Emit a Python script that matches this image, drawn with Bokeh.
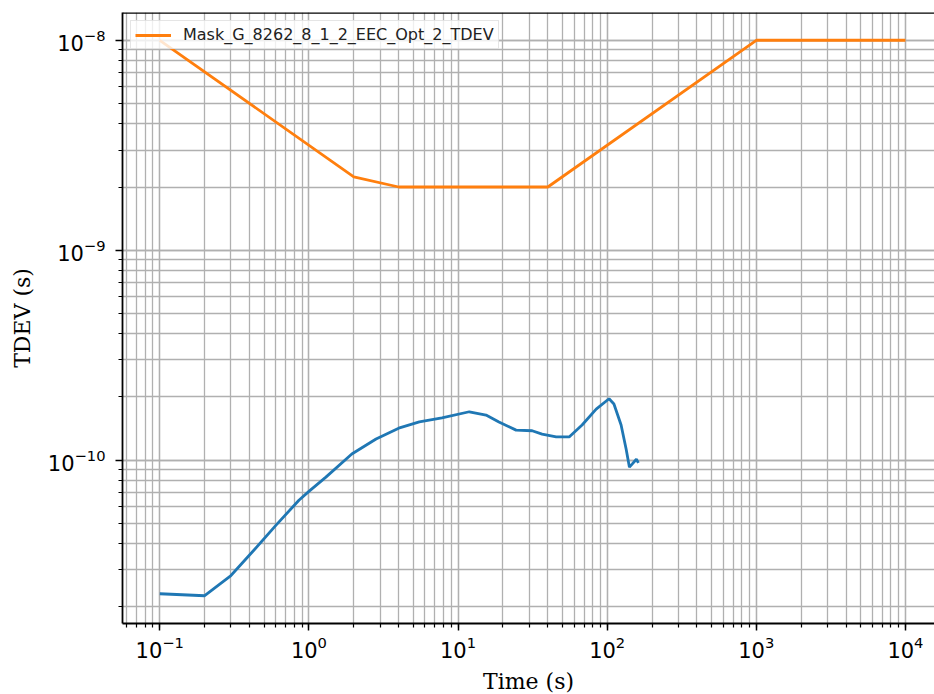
import numpy as np
from bokeh.plotting import figure
from bokeh.models import Range1d, Span, Legend, LegendItem
from bokeh.embed import file_html
from bokeh.resources import INLINE

# Measured TDEV (blue)
meas_tau = [0.1, 0.2, 0.3, 0.414, 0.6, 0.857, 1.0, 1.3, 1.94, 2.82, 4.0, 5.5, 7.8,
            11.9, 15.4, 18.8, 24.5, 31.4, 36.6, 45.5, 55.6, 67.9, 84.4, 103,
            111, 124, 134, 141, 147, 157, 162]
meas_tdev = [2.31e-11, 2.26e-11, 2.82e-11, 3.63e-11, 4.89e-11, 6.44e-11, 7.1e-11, 8.3e-11,
             1.07e-10, 1.26e-10, 1.42e-10, 1.52e-10, 1.59e-10, 1.70e-10, 1.64e-10,
             1.52e-10, 1.39e-10, 1.38e-10, 1.33e-10, 1.29e-10, 1.29e-10, 1.47e-10,
             1.75e-10, 1.96e-10, 1.85e-10, 1.47e-10, 1.13e-10, 9.26e-11, 9.57e-11,
             1.01e-10, 9.7e-11]

# Mask (orange)
mask_tau = [0.1, 2, 4, 40, 1000, 10000]
mask_tdev = [1e-8, 2.236e-9, 2.0e-9, 2.0e-9, 1e-8, 1e-8]
mask_label = "Mask_G_8262_8_1_2_EEC_Opt_2_TDEV"

x_label = "Time (s)"
y_label = "TDEV (s)"

# ranges (matplotlib-like 5% log margins; right side cropped)
all_t = meas_tau + mask_tau
all_v = meas_tdev + mask_tdev
lx0, lx1 = np.log10(min(all_t)), np.log10(max(all_t))
ly0, ly1 = np.log10(min(all_v)), np.log10(max(all_v))
mx = 0.05 * (lx1 - lx0)
my = 0.05 * (ly1 - ly0)
x_start = 10 ** (lx0 - mx)
x_end = 10 ** 4.195
y_start = 10 ** (ly0 - my)
y_end = 10 ** (ly1 + my)

p = figure(x_axis_type="log", y_axis_type="log",
           frame_width=812, frame_height=611,
           x_range=Range1d(x_start, x_end), y_range=Range1d(y_start, y_end),
           output_backend="svg", toolbar_location=None,
           min_border_left=122, min_border_right=0, min_border_top=12,
           min_border_bottom=71)

p.background_fill_color = "white"
p.border_fill_color = "white"
p.outline_line_color = None

# grid
for g in (p.xgrid, p.ygrid):
    g.grid_line_color = "#b0b0b0"
    g.grid_line_width = 1.3
    g.minor_grid_line_color = "#b0b0b0"
    g.minor_grid_line_width = 1.3

# top spine
p.add_layout(Span(location=y_end, dimension="width", line_color="black", line_width=2.5))

r_meas = p.line(meas_tau, meas_tdev, line_color="#1f77b4", line_width=2.8)
r_mask = p.line(mask_tau, mask_tdev, line_color="#ff7f0e", line_width=2.8)

legend = Legend(items=[LegendItem(label=mask_label, renderers=[r_mask])],
                location="top_left")
legend.margin = 8
legend.padding = 4
legend.spacing = 0
legend.glyph_width = 36
legend.glyph_height = 16
legend.label_standoff = 12
legend.label_text_font = "DejaVu Sans"
legend.label_text_font_size = "16px"
legend.label_text_color = "#222222"
legend.border_line_color = "#cccccc"
legend.border_line_width = 1.2
legend.background_fill_alpha = 0.8
p.add_layout(legend)

for ax in (p.xaxis, p.yaxis):
    ax.axis_line_color = "black"
    ax.axis_line_width = 1.8
    ax.major_tick_line_color = "black"
    ax.major_tick_line_width = 1.5
    ax.minor_tick_line_color = "black"
    ax.minor_tick_line_width = 1.2
    ax.major_tick_in = 0
    ax.major_tick_out = 7
    ax.minor_tick_in = 0
    ax.minor_tick_out = 4
    ax.major_label_text_font = "DejaVu Sans"
    ax.major_label_text_font_size = "21px"
    ax.major_label_text_color = "black"
    ax.axis_label_text_font = "DejaVu Serif"
    ax.axis_label_text_font_size = "22px"
    ax.axis_label_text_font_style = "normal"
    ax.axis_label_text_color = "black"

p.xaxis.axis_label = x_label
p.yaxis.axis_label = y_label
p.yaxis.major_label_standoff = 10
p.yaxis.axis_label_standoff = 10
p.xaxis.axis_label_standoff = 8

open("out.html", "w").write(file_html(p, INLINE))
